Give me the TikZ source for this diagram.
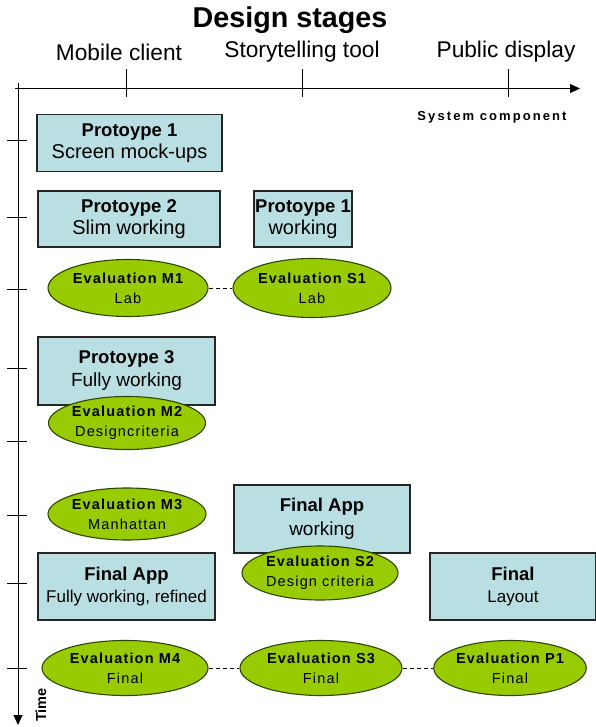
\documentclass[tikz,border=0pt]{standalone}
\usepackage{fontspec}
\setmainfont{Liberation Sans}
\newfontfamily\spacedfont[LetterSpace=8]{Liberation Sans}
\newfontfamily\widefont[LetterSpace=16]{Liberation Sans}
\usetikzlibrary{arrows.meta,shapes.geometric}
\definecolor{boxblue}{RGB}{186,223,227}
\definecolor{evalgreen}{RGB}{153,204,0}
\definecolor{evaledge}{RGB}{45,70,0}
\tikzset{
  protobox/.style={draw=black!85, line width=1.1pt, fill=boxblue, align=center, inner sep=0pt,
    font=\fontsize{20}{22}\selectfont},
  tallbox/.style={protobox, font=\fontsize{19}{25}\selectfont},
  smallbox/.style={protobox, font=\fontsize{17}{22}\selectfont},
  evalell/.style={ellipse, draw=evaledge, line width=1.1pt, fill=evalgreen, align=center, inner sep=0pt,
    font=\spacedfont\fontsize{14.5}{20}\selectfont},
  axisline/.style={line width=1pt, -{Triangle[length=10pt,width=9pt]}},
  tickline/.style={line width=1pt},
  link/.style={line width=1pt, dash pattern=on 4pt off 3pt},
}
\newcommand{\btit}[1]{{\fontsize{18.5}{22}\selectfont\bfseries #1}}
\begin{document}
\begin{tikzpicture}[x=1pt,y=-1pt]
\useasboundingbox (0,0) rectangle (596,727);
% title and component labels
\node (title) at (290,20) {\fontsize{28.7}{32}\selectfont\bfseries Design stages};
\node (mob) at (119,52) {\fontsize{22.7}{26}\selectfont Mobile client};
\node (sto) at (302,52) {\fontsize{22.7}{26}\selectfont Storytelling tool};
\node (pub) at (506,52) {\fontsize{22.7}{26}\selectfont Public display};
\node (sys) at (492,117) {\widefont\fontsize{13}{15}\selectfont\bfseries System component};
\node[rotate=90] (time) at (41,705) {\fontsize{14.5}{16}\selectfont\bfseries Time};
% axes
\coordinate (hx0) at (15,88.5);
\coordinate (hx1) at (580,88.5);
\coordinate (vy0) at (18,83);
\coordinate (vy1) at (18,725);
\draw[axisline] (hx0) -- (hx1);
\draw[axisline] (vy0) -- (vy1);
\foreach \x in {126,302,508} \draw[tickline] (\x,69) -- (\x,97);
\foreach \y in {141,218,289,368,441,515,583,668} \draw[tickline] (7,\y) -- (27,\y);
% boxes and ellipses
\node[protobox, minimum width=185pt, minimum height=57pt] (p1m) at (129.5,143) {\btit{Protoype 1}\\Screen mock-ups};
\node[protobox, minimum width=182pt, minimum height=56pt] (p2m) at (129,219) {\btit{Protoype 2}\\Slim working};
\node[protobox, minimum width=98pt, minimum height=56pt] (p1s) at (303,219) {\btit{Protoype 1}\\working};
\node[evalell, minimum width=160pt, minimum height=57pt] (em1) at (128,288) {{\bfseries Evaluation M1}\\Lab};
\node[evalell, minimum width=158pt, minimum height=59pt] (es1) at (312,288) {{\bfseries Evaluation S1}\\Lab};
\node[tallbox, minimum width=177pt, minimum height=68pt] (p3m) at (126.5,371) {\raisebox{5pt}{\shortstack{\btit{Protoype 3}\\[3pt]Fully working}}};
\node[evalell, minimum width=157pt, minimum height=53pt] (em2) at (127,423) {{\bfseries Evaluation M2}\\Designcriteria};
\node[evalell, minimum width=158pt, minimum height=52pt] (em3) at (127,514) {{\bfseries Evaluation M3}\\Manhattan};
\node[tallbox, minimum width=176pt, minimum height=68pt] (faw) at (322,519) {\raisebox{5pt}{\shortstack{\btit{Final App}\\[3pt]working}}};
\node[evalell, minimum width=156pt, minimum height=54pt] (es2) at (320,573) {{\bfseries Evaluation S2}\\Design criteria};
\node[smallbox, minimum width=177pt, minimum height=67pt] (faf) at (126.5,586.5) {\btit{Final App}\\Fully working, refined};
\node[smallbox, minimum width=166pt, minimum height=67pt] (fl) at (513,586.5) {\btit{Final}\\Layout};
\node[evalell, minimum width=166pt, minimum height=55pt] (em4) at (125,668) {{\bfseries Evaluation M4}\\Final};
\node[evalell, minimum width=162pt, minimum height=55pt] (es3) at (321,668) {{\bfseries Evaluation S3}\\Final};
\node[evalell, minimum width=146pt, minimum height=55pt] (ep1) at (510,668) {{\bfseries Evaluation P1}\\Final};
% dashed links
\draw[link] (em1) -- (es1);
\draw[link] (em4) -- (es3);
\draw[link] (es3) -- (ep1);
\end{tikzpicture}
\end{document}
